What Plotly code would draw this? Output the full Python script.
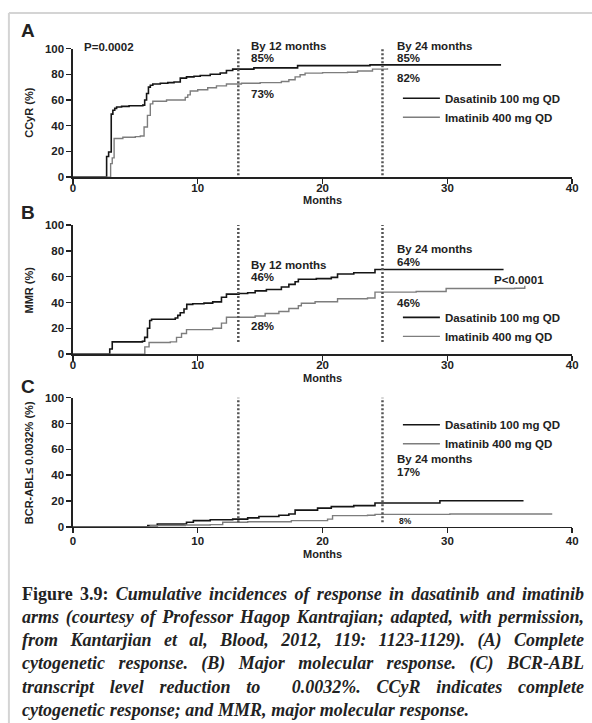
import json
import plotly.graph_objects as go

# ---------------- data ----------------
series_names = ["Dasatinib 100 mg QD", "Imatinib 400 mg QD"]
month_ticks = [0, 10, 20, 30, 40]
pct_ticks = [0, 20, 40, 60, 80, 100]
milestone_months = [13.25, 24.8]

# Panel A: complete cytogenetic response (CCyR, %)
ccyr_das_t = [0, 2.63, 2.7, 2.86, 3.07, 3.2, 3.35, 3.5, 3.9, 4.5, 5.6, 5.75, 5.9, 6.05,
              6.2, 6.4, 7.0, 7.6, 8.1, 8.6, 9.1, 9.7, 10.2, 11.0, 11.8, 12.3, 12.8, 14.5,
              18.0, 23.8, 34.3]
ccyr_das_v = [0, 0, 16, 19.5, 49, 52, 53.5, 54.5, 55, 55.5, 56, 60, 65, 70,
              71.5, 72.5, 73, 73.5, 74, 77, 78, 78.5, 79, 80, 81, 83, 84, 85,
              86.7, 87.3, 87.3]
ccyr_ima_t = [0, 2.95, 3.02, 3.15, 3.3, 4.0, 5.0, 5.4, 5.7, 5.97, 6.2, 6.4, 7.5, 9.0,
              9.2, 9.4, 10.0, 10.8, 11.5, 12.3, 13.5, 15.0, 16.7, 17.3, 17.8, 18.2, 18.6,
              20.0, 22.0, 22.8, 24.0, 25.2]
ccyr_ima_v = [0, 0, 10.5, 15, 30, 31, 31.5, 32, 39, 48, 57, 59, 60, 62,
              64, 67, 68, 69.5, 71, 72.5, 73, 73.5, 74.4, 75.7, 78, 79.6, 80.9,
              81.3, 81.6, 82.5, 84, 84.7]

# Panel B: major molecular response (MMR, %)
mmr_das_t = [0, 2.86, 2.95, 3.15, 5.57, 5.75, 5.97, 6.15, 6.3, 8.2, 8.4, 8.6, 8.9, 9.12,
             9.6, 10.5, 11.2, 11.9, 12.3, 13.3, 14.0, 14.6, 15.5, 16.7, 17.3, 17.8, 18.06,
             19.5, 20.7, 21.2, 22.5, 24.2, 34.5]
mmr_das_v = [0, 0, 4, 9.5, 10, 13, 20, 26, 27, 28, 30, 32, 35, 38.5,
             39, 39.5, 40.5, 44, 46.5, 47, 47.5, 49, 50, 52, 54, 56, 58,
             58.5, 59.4, 62, 63, 65.5, 65.5]
mmr_ima_t = [0, 5.57, 5.76, 6.1, 7.8, 8.3, 8.7, 9.1, 11.2, 11.9, 12.3, 14.6, 15.4, 16.5,
             17.3, 18.06, 18.3, 19.4, 21.2, 23.6, 24.2, 27.5, 29.9, 35.4, 36.2]
mmr_ima_v = [0, 0, 5.6, 9, 9.5, 13, 16, 19, 20, 24, 28.5, 29.5, 31.5, 33,
             35.3, 37.5, 39.4, 40.6, 42.9, 43.5, 48, 48.5, 50.8, 51, 53]

# Panel C: BCR-ABL <= 0.0032% (%)
deep_das_t = [0, 5.7, 6.0, 6.76, 9.1, 9.65, 11.0, 12.8, 14.0, 14.9, 16.5, 17.3, 17.8,
              19.6, 20.7, 22.5, 24.2, 29.4, 36.1]
deep_das_v = [0, 0, 1, 2.3, 3.6, 4.9, 5.5, 6, 7, 8, 9, 10, 13,
              14.5, 15.7, 16.5, 18.5, 20.3, 20.3]
deep_ima_t = [0, 5.7, 6.2, 9.0, 11.0, 12.0, 14.0, 17.5, 20.4, 20.8, 23.6, 24.2, 30.2, 38.4]
deep_ima_v = [0, 0, 1, 1.5, 1.8, 3.6, 4, 4.9, 6, 8.7, 9, 9.7, 10, 10]

caption_lines = [
    "<b>Figure 3.9:</b> <b><i>Cumulative incidences of response in dasatinib and imatinib</i></b>",
    "<b><i>arms (courtesy of Professor Hagop Kantrajian; adapted, with permission,</i></b>",
    "<b><i>from Kantarjian et al, Blood, 2012, 119: 1123-1129). (A) Complete</i></b>",
    "<b><i>cytogenetic response. (B) Major molecular response. (C) BCR-ABL</i></b>",
    "<b><i>transcript level reduction to\u00a0 0.0032%. CCyR indicates complete</i></b>",
    "<b><i>cytogenetic response; and MMR, major molecular response.</i></b>",
]

# ---------------- layout helpers ----------------
W, H = 592, 723
def fx(p):
    return p / W
def fy(p):
    return 1 - p / H

SANS = "Liberation Sans, Arial, sans-serif"
SERIF = "Liberation Serif, Times New Roman, serif"
TXT = "#222222"
DAS_COLOR = "#151515"
IMA_COLOR = "#7d7d7d"

panels = [
    dict(letter="A", letter_y=25, ytitle="CCyR (%)",
         das=(ccyr_das_t, ccyr_das_v), ima=(ccyr_ima_t, ccyr_ima_v),
         ybot=174, ytop=43.3, dot_lo=1.5, dot_hi=100, legend_y=103.5,
         months_shift=-23, tick_standoff=-5,
         notes=[("P=0.0002", 0.7, 101.2, "left", 11.5),
                ("By 12 months", 14.1, 101.8, "left", 11.5),
                ("85%", 14.1, 92.6, "left", 11.5),
                ("73%", 14.1, 65, "left", 11.5),
                ("By 24 months", 25.77, 101.8, "left", 11.5),
                ("85%", 25.77, 92.6, "left", 11.5),
                ("82%", 25.77, 77.3, "left", 11.5)]),
    dict(letter="B", letter_y=210, ytitle="MMR (%)",
         das=(mmr_das_t, mmr_das_v), ima=(mmr_ima_t, mmr_ima_v),
         ybot=354, ytop=222.7, dot_lo=9.4, dot_hi=100, legend_y=326.3,
         months_shift=-24, tick_standoff=-5,
         notes=[("By 12 months", 14.1, 69.3, "left", 11.5),
                ("46%", 14.1, 59.4, "left", 11.5),
                ("28%", 14.1, 21.5, "left", 11.5),
                ("By 24 months", 25.77, 81.7, "left", 11.5),
                ("64%", 25.77, 71.6, "left", 11.5),
                ("P<0.0001", 37.9, 57.1, "right", 11.5),
                ("46%", 25.77, 39.6, "left", 11.5)]),
    dict(letter="C", letter_y=387, ytitle="BCR-ABL\u2264 0.0032% (%)",
         das=(deep_das_t, deep_das_v), ima=(deep_ima_t, deep_ima_v),
         ybot=529.7, ytop=398.3, dot_lo=3.6, dot_hi=100, legend_y=435.5,
         months_shift=-27, tick_standoff=-2,
         notes=[("By 24 months", 25.77, 52.3, "left", 11.5),
                ("17%", 25.77, 42.2, "left", 11.5),
                ("P<0.0002", 40.5, 14.2, "right", 11.5),
                ("8%", 25.95, 4.3, "left", 8.5)]),
]

fig = go.Figure()
annotations = []
shapes = []
layout_axes = {}

for i, p in enumerate(panels):
    sfx = "" if i == 0 else str(i + 1)
    xa, ya = "x" + sfx, "y" + sfx
    leg = "legend" + sfx
    ydom = [fy(p["ybot"]), fy(p["ytop"])]

    for name, (t, v), color, width in [
        (series_names[0], p["das"], DAS_COLOR, 1.6),
        (series_names[1], p["ima"], IMA_COLOR, 1.4),
    ]:
        fig.add_trace(go.Scatter(
            x=t, y=v, mode="lines", name=name,
            line=dict(shape="hv", color=color, width=width),
            xaxis=xa, yaxis=ya, legend=leg, hoverinfo="skip",
        ))

    tickfont = dict(family=SANS, size=11.5, color=TXT, weight="bold")
    layout_axes["xaxis" + sfx] = dict(
        domain=[fx(71), fx(578)], range=[0, 40], tickvals=month_ticks,
        showline=True, linecolor=TXT, linewidth=1.5, ticks="outside",
        ticklen=5, tickwidth=1.5, tickcolor=TXT, showgrid=False,
        zeroline=False, anchor=ya, tickfont=tickfont, fixedrange=True,
        ticklabelstandoff=p["tick_standoff"])
    layout_axes["yaxis" + sfx] = dict(
        domain=ydom, range=[0, 100], tickvals=pct_ticks,
        showline=True, linecolor=TXT, linewidth=1.5, ticks="outside",
        ticklen=5, tickwidth=1.5, tickcolor=TXT, showgrid=False,
        zeroline=False, anchor=xa, tickfont=tickfont, fixedrange=True)
    layout_axes[leg] = dict(
        x=fx(401), y=fy(p["legend_y"]), xanchor="left", yanchor="middle",
        bgcolor="rgba(0,0,0,0)", borderwidth=0, itemwidth=37,
        font=dict(family=SANS, size=11.5, color=TXT, weight="bold"),
        traceorder="normal")

    h = ydom[1] - ydom[0]
    for m in milestone_months:
        shapes.append(dict(
            type="line", xref=xa, x0=m, x1=m, yref="paper",
            y0=ydom[0] + p["dot_lo"] / 100 * h,
            y1=ydom[0] + p["dot_hi"] / 100 * h,
            line=dict(color="#555555", width=2.5, dash="2px,2px")))

    # panel letter
    annotations.append(dict(
        text=p["letter"], xref="paper", yref="paper", x=fx(16), y=fy(p["letter_y"]),
        xanchor="left", yanchor="middle", showarrow=False,
        font=dict(family=SANS, size=19, color=TXT, weight="bold")))
    # y title
    annotations.append(dict(
        text=p["ytitle"], xref=xa + " domain", yref=ya + " domain", x=0, y=0.5,
        xshift=-(71 - 27), xanchor="center", yanchor="middle", textangle=-90,
        showarrow=False, font=dict(family=SANS, size=11, color=TXT, weight="bold")))
    # x title
    annotations.append(dict(
        text="Months", xref=xa + " domain", yref=ya + " domain", x=0.5, y=0,
        yshift=p["months_shift"], xanchor="center", yanchor="middle", showarrow=False,
        font=dict(family=SANS, size=11, color=TXT, weight="bold")))
    for text, x, y, anchor, size in p["notes"]:
        annotations.append(dict(
            text=text, xref=xa, yref=ya + " domain", x=x, y=y / 100, xanchor=anchor,
            yanchor="middle", showarrow=False,
            font=dict(family=SANS, size=size, color=TXT, weight="bold")))

# caption lines
cap_first_idx = len(annotations)
cap_centers = [598, 621.5, 645, 668.5, 692, 715.5]
for line, cy in zip(caption_lines, cap_centers):
    annotations.append(dict(
        text=line, xref="paper", yref="paper", x=fx(17), y=fy(cy),
        xanchor="left", yanchor="middle", align="left", showarrow=False,
        font=dict(family=SERIF, size=18, color=TXT)))
targets = {}
for k in range(len(caption_lines)):
    targets[str(cap_first_idx + k)] = 562 if k < len(caption_lines) - 1 else 447

# frame (light grey border at top and left)
shapes.append(dict(type="line", xref="paper", yref="paper", x0=fx(6), x1=1.02,
                   y0=fy(7), y1=fy(7), line=dict(color="#d4d4d4", width=2)))
shapes.append(dict(type="line", xref="paper", yref="paper", x0=fx(6), x1=fx(6),
                   y0=fy(7), y1=-0.02, line=dict(color="#d4d4d4", width=2)))

fig.update_layout(
    width=W, height=H, autosize=False,
    margin=dict(l=0, r=0, t=0, b=0),
    paper_bgcolor="white", plot_bgcolor="white",
    font=dict(family=SANS, size=11.5, color=TXT),
    showlegend=True,
    annotations=annotations, shapes=shapes,
    **layout_axes,
)

post = """
document.body.style.margin = '0';
var gd = document.getElementById('{plot_id}');
var targets = TARGETS;
Object.keys(targets).forEach(function(k){
  var t = gd.querySelector('.annotation[data-index="' + k + '"] .annotation-text');
  if(!t) return;
  t.setAttribute('text-anchor', 'start');
  t.style.wordSpacing = '0px';
  var b0 = t.getBBox();
  var len = t.getComputedTextLength();
  var n = (t.textContent.match(/[ \\u00a0]/g) || []).length;
  if(n > 0){ t.style.wordSpacing = ((targets[k] - len) / n) + 'px'; }
  var b1 = t.getBBox();
  var x = parseFloat(t.getAttribute('x') || '0');
  t.setAttribute('x', x + (b0.x - b1.x));
});
""".replace("TARGETS", json.dumps(targets))

fig.write_html("out.html", config={"displayModeBar": False, "staticPlot": True},
               post_script=post)
